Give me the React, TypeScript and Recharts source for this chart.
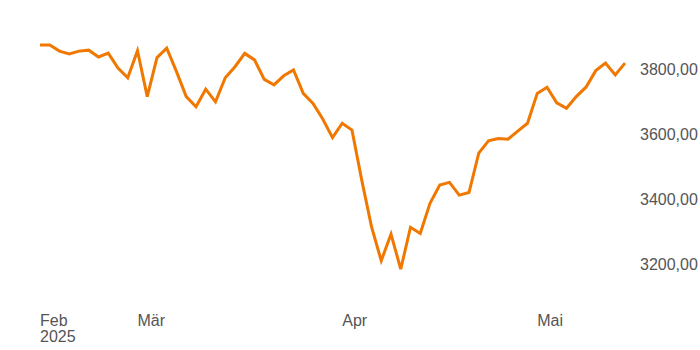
import { LineChart, Line, XAxis, YAxis } from 'recharts';

// trading days, 17.02.2025 - 15.05.2025
const dates = [
    '2025-02-17', '2025-02-18', '2025-02-19', '2025-02-20', '2025-02-21',
    '2025-02-24', '2025-02-25', '2025-02-26', '2025-02-27', '2025-02-28',
    '2025-03-03', '2025-03-04', '2025-03-05', '2025-03-06', '2025-03-07',
    '2025-03-10', '2025-03-11', '2025-03-12', '2025-03-13', '2025-03-14',
    '2025-03-17', '2025-03-18', '2025-03-19', '2025-03-20', '2025-03-21',
    '2025-03-24', '2025-03-25', '2025-03-26', '2025-03-27', '2025-03-28',
    '2025-03-31', '2025-04-01', '2025-04-02', '2025-04-03', '2025-04-04',
    '2025-04-07', '2025-04-08', '2025-04-09', '2025-04-10', '2025-04-11',
    '2025-04-14', '2025-04-15', '2025-04-16', '2025-04-17', '2025-04-22',
    '2025-04-23', '2025-04-24', '2025-04-25', '2025-04-28', '2025-04-29',
    '2025-04-30', '2025-05-02', '2025-05-05', '2025-05-06', '2025-05-07',
    '2025-05-08', '2025-05-09', '2025-05-12', '2025-05-13', '2025-05-14',
    '2025-05-15',
];

const closes = [
    3874, 3874, 3855, 3846, 3855, 3858, 3837, 3849, 3803, 3773,
    3856, 3715, 3835, 3864, 3792, 3715, 3684, 3738, 3699, 3773,
    3807, 3848, 3828, 3768, 3751, 3779, 3797, 3725, 3694, 3646,
    3589, 3633, 3612, 3458, 3315, 3210, 3292, 3184, 3313, 3294,
    3387, 3443, 3451, 3412, 3420, 3541, 3579, 3586, 3584, 3609,
    3633, 3725, 3744, 3696, 3679, 3715, 3744, 3795, 3818, 3782,
    3818,
];

const monthTicks = ['2025-02-17', '2025-03-03', '2025-04-01', '2025-05-02'];
const monthLabels: Record<string, string[]> = {
    '2025-02-17': ['Feb', '2025'],
    '2025-03-03': ['Mär'],
    '2025-04-01': ['Apr'],
    '2025-05-02': ['Mai'],
};
const valueTicks = [3200, 3400, 3600, 3800];

const data = dates.map((date, i) => ({ date, close: closes[i] }));

const font = '"Liberation Sans", Arial, sans-serif';

const MonthTick = ({ x, y, payload }: any) => {
    const lines = monthLabels[payload.value] || [];
    return (
        <text x={x} y={y} textAnchor="start" fill="#555" fontSize={16} fontFamily={font}>
            {lines.map((t, i) => (
                <tspan key={i} x={x} dy={i === 0 ? 29.5 : 16}>{t}</tspan>
            ))}
        </text>
    );
};

const fmt = (v: number) => v.toFixed(2).replace('.', ',');

export default function App() {
    return (
        <div style={{ position: 'absolute', left: 0, top: 0, background: '#fff' }}>
            <LineChart width={700} height={350} data={data} margin={{ top: 36.5, right: 0, bottom: 0, left: 40 }}>
                <XAxis
                    dataKey="date"
                    ticks={monthTicks}
                    interval={0}
                    height={53.5}
                    axisLine={false}
                    tickLine={false}
                    tickSize={0}
                    tickMargin={0}
                    tick={<MonthTick />}
                />
                <YAxis
                    orientation="right"
                    width={75}
                    domain={[3100, 3900]}
                    ticks={valueTicks}
                    axisLine={false}
                    tickLine={false}
                    tickSize={0}
                    tickMargin={15}
                    tickFormatter={fmt}
                    tick={{ fill: '#555', fontSize: 16, fontFamily: font }}
                />
                <Line
                    type="linear"
                    dataKey="close"
                    stroke="#f07800"
                    strokeWidth={3}
                    dot={false}
                    isAnimationActive={false}
                />
            </LineChart>
        </div>
    );
}
